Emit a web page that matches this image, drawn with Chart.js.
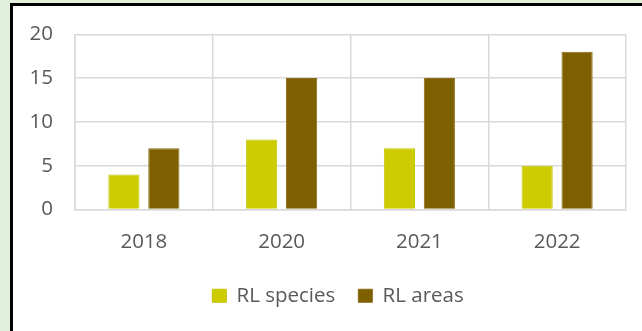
<!DOCTYPE html>
<html>
<head>
<meta charset="utf-8">
<script src="https://cdn.jsdelivr.net/npm/chart.js@4"></script>
<style>
  body { margin: 0; background: #e2efda; width: 642px; height: 331px; overflow: hidden; position: relative; }
  #frame { position: absolute; left: 10px; top: 3px; width: 700px; height: 326px; border-left: 3px solid #000; border-top: 3px solid #000; background: #fff; border-bottom: 2px solid #e6e6e6; }
  #chart1 { position: absolute; left: 0; top: 0; }
</style>
</head>
<body>
<div id="frame"></div>
<canvas id="chart1" width="642" height="331"></canvas>
<script>
// dados
const years = ['2018', '2020', '2021', '2022'];
const rlSpecies = [4, 8, 7, 5];
const rlAreas = [7, 15, 15, 18];
const yTicks = [0, 5, 10, 15, 20];

const txtColor = '#595959';
const gridColor = '#d9d9d9';
const fonte = { family: "'Open Sans'", size: 20.5 };

// empurra a legenda um pouco para a direita, como no original
const legendShift = {
    id: 'legendShift',
    afterLayout(chart) {
        chart.legend.left += 19;
        chart.legend.right += 19;
    }
};

function createChart(chartId) {
    const ctx = document.getElementById(chartId).getContext('2d');
    new Chart(ctx, {
        type: 'bar',
        data: {
            labels: years,
            datasets: [
                { label: 'RL species', data: rlSpecies, backgroundColor: '#cccc00', borderColor: '#c4c400', borderWidth: 1 },
                { label: 'RL areas', data: rlAreas, backgroundColor: '#7f6000', borderColor: '#8a6b10', borderWidth: 1 }
            ]
        },
        options: {
            responsive: false,
            animation: false,
            categoryPercentage: 0.58,
            barPercentage: 0.78,
            layout: { padding: { left: 12, right: 16, top: 34, bottom: 15 } },
            plugins: {
                tooltip: { enabled: false },
                legend: {
                    position: 'bottom',
                    labels: { color: txtColor, font: fonte, boxWidth: 14, boxHeight: 13, padding: 23 }
                }
            },
            scales: {
                x: {
                    grid: { color: gridColor, lineWidth: 1.5, drawTicks: false, offset: true },
                    border: { color: gridColor, width: 1.5 },
                    ticks: { color: txtColor, font: fonte, padding: 20 },
                    afterFit: (s) => { s.height = 53; }
                },
                y: {
                    min: 0, max: 20,
                    grid: { color: gridColor, lineWidth: 1.5, drawTicks: false },
                    border: { color: gridColor, width: 1.5 },
                    afterBuildTicks: (s) => { s.ticks = yTicks.map(v => ({ value: v })); },
                    ticks: { color: txtColor, font: fonte, padding: 22 },
                    afterFit: (s) => { s.width = 63; }
                }
            }
        },
        plugins: [legendShift]
    });
}

window.onload = function () {
    createChart('chart1');
};
</script>
</body>
</html>
